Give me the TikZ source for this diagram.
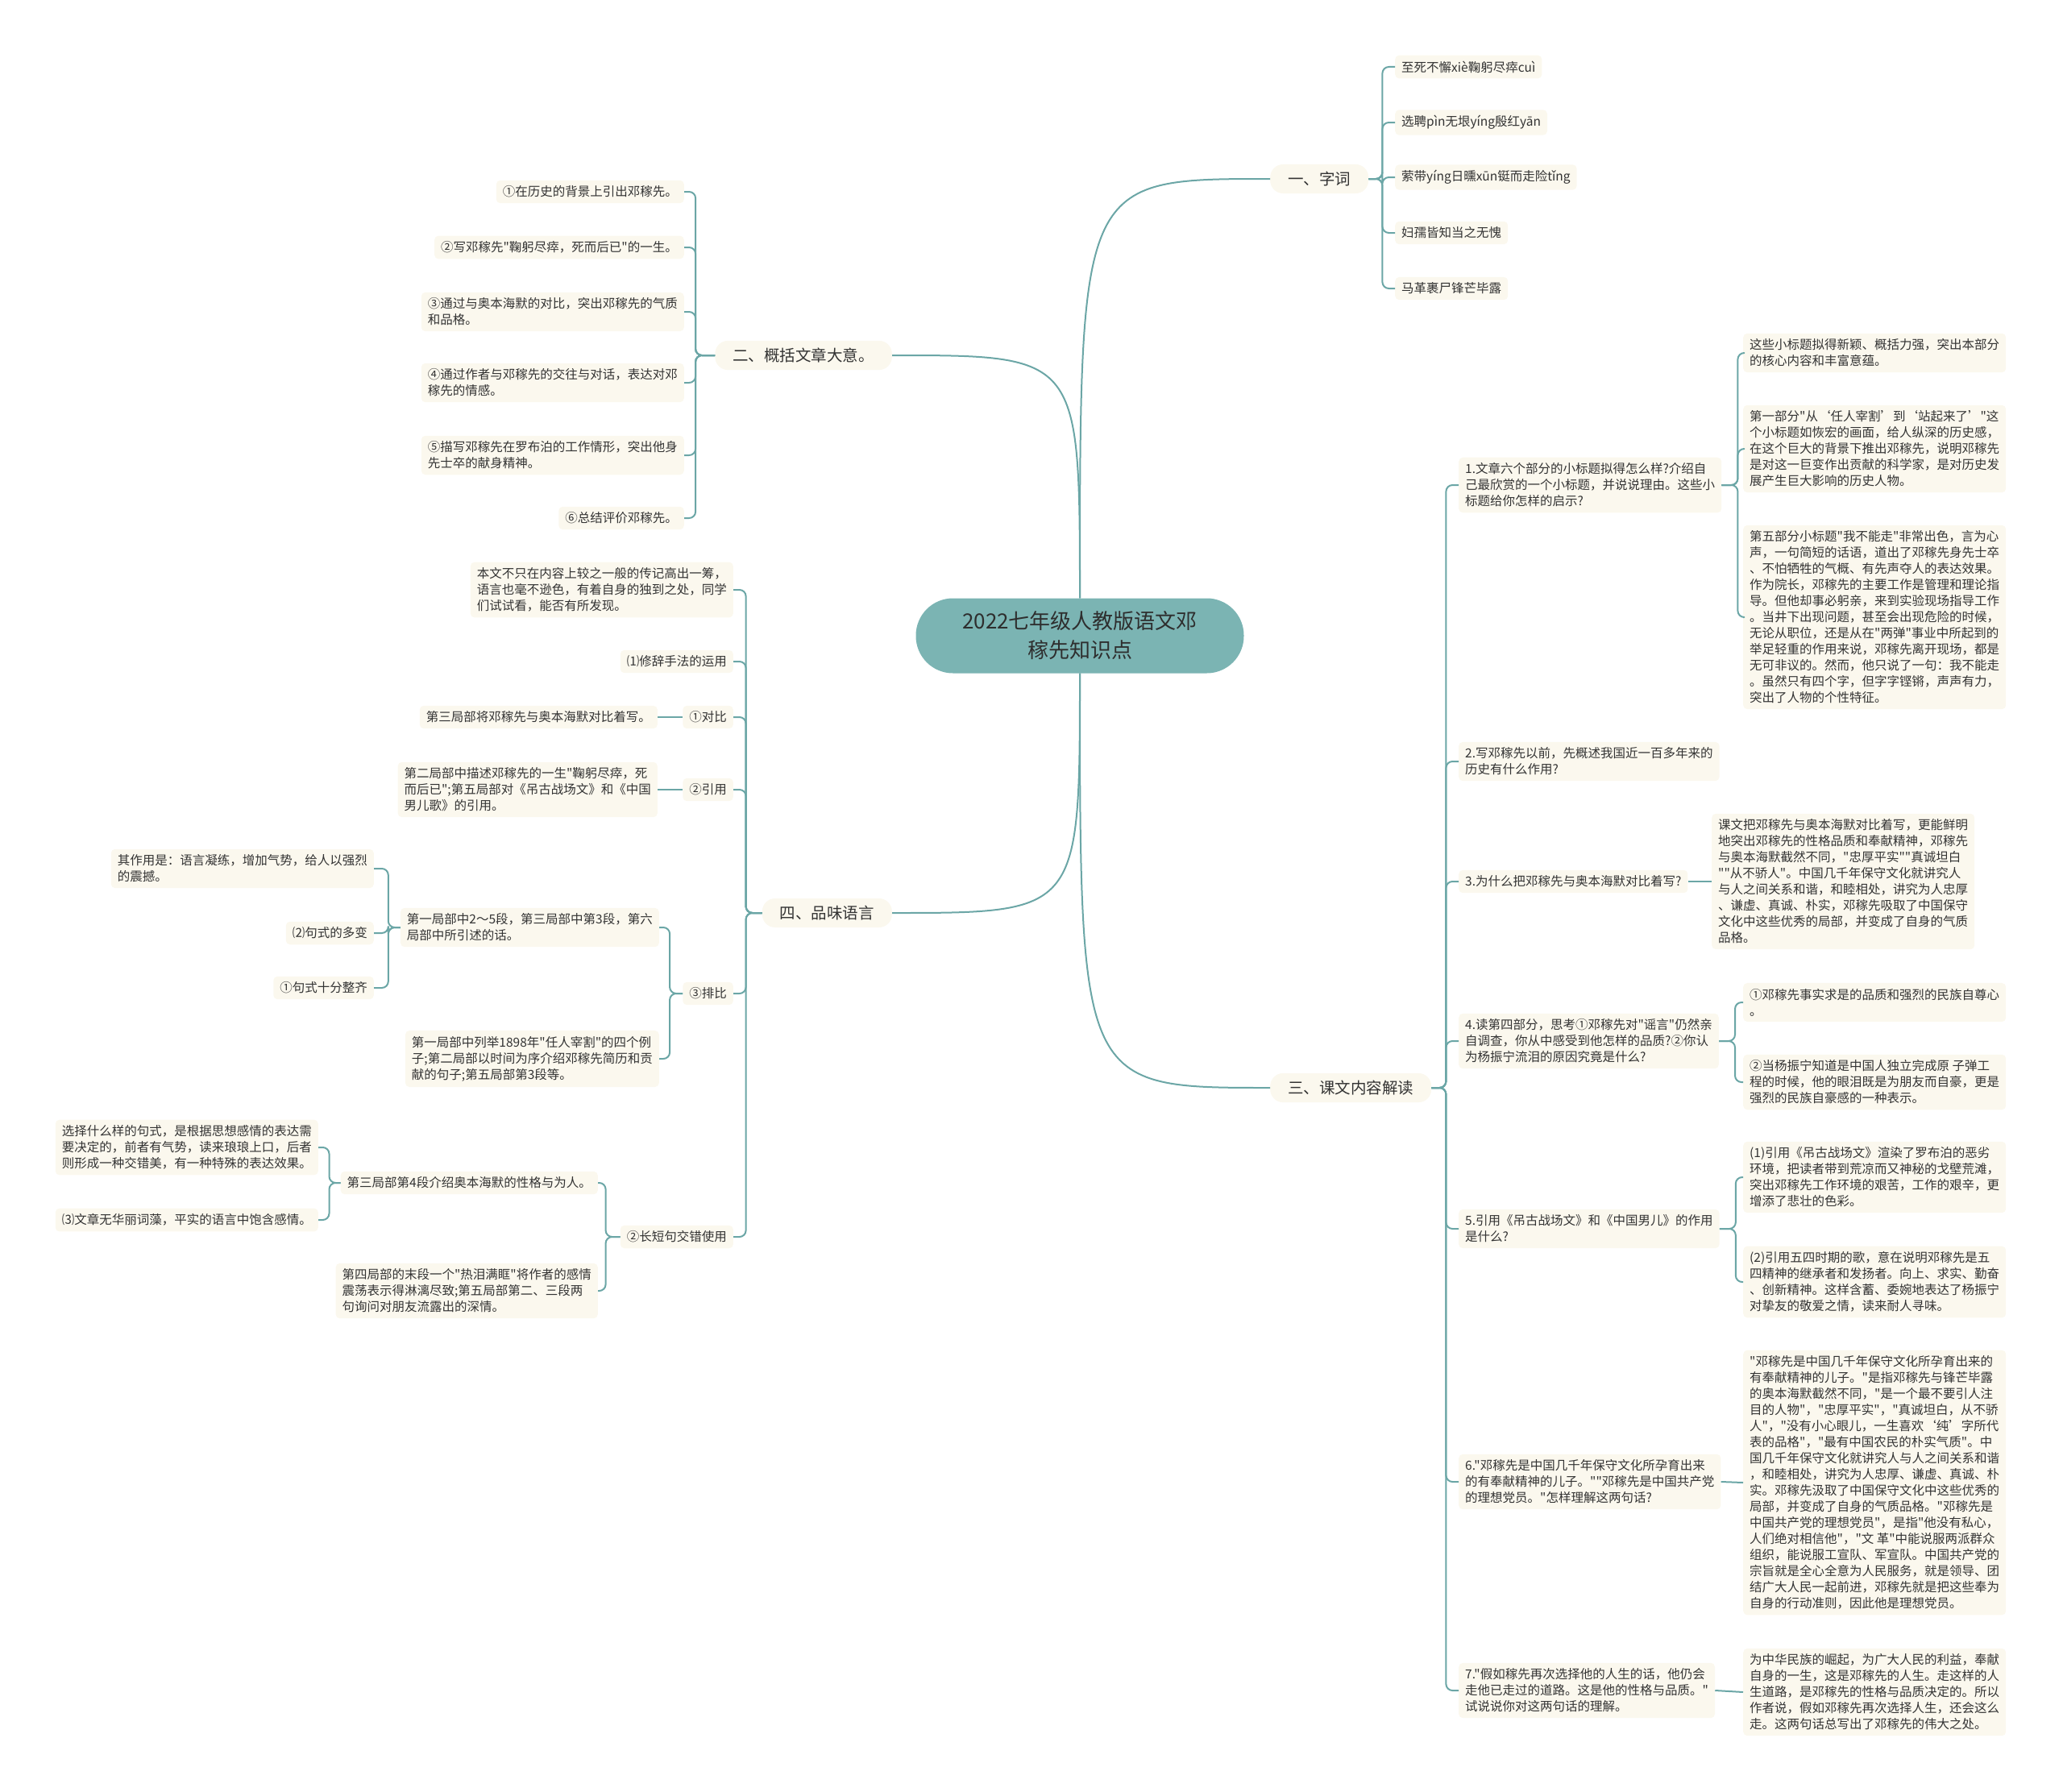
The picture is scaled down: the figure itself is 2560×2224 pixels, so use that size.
\documentclass[tikz,border=0pt]{standalone}
\usepackage{fontspec}
\setmainfont{Noto Sans CJK SC}[Ligatures=TeXOff]
\usepackage{xcolor}
\definecolor{cream}{HTML}{FBF8EE}
\definecolor{tealline}{HTML}{6BA6A6}
\definecolor{tealroot}{HTML}{7BB4B3}
\definecolor{ink}{HTML}{333333}

\begin{document}
\begin{tikzpicture}[x=1pt, y=-1pt, line join=round,
    rootbox/.style={fill=tealroot, rounded corners=46pt, minimum width=407pt, minimum height=93pt,
        align=center, text=ink!90!black, font=\fontsize{26}{36}\selectfont},
    topicbox/.style={fill=cream, rounded corners=16pt, inner xsep=22pt, inner ysep=9pt,
        text=ink, font=\fontsize{19.5}{24}\selectfont},
    leafbox/.style={fill=cream, rounded corners=5pt, inner xsep=8pt, inner ysep=7pt,
        align=left, text=ink, font=\fontsize{15.5}{20}\selectfont},
    link/.style={draw=tealline, line width=2pt, rounded corners=8pt}]

    % full picture: 2560 x 2224, one unit = one pixel of the reference
    \useasboundingbox (0,0) rectangle (2560,2224);

    % ==========================================
    % ROOT AND TOPICS
    % ==========================================

    \node[rootbox] (root) at (1340,789) {2022七年级人教版语文邓\\稼先知识点};

    \node[topicbox, anchor=west] (zici) at (1576,222) {一、字词};
    \node[topicbox, anchor=west] (kewen) at (1576,1350) {三、课文内容解读};
    \node[topicbox, anchor=east] (gaikuo) at (1107,441) {二、概括文章大意。};
    \node[topicbox, anchor=east] (pinwei) at (1107,1133) {四、品味语言};

    \draw[link] (root.north) .. controls (root.north |- zici.west) .. (zici.west);
    \draw[link] (root.north) .. controls (root.north |- gaikuo.east) .. (gaikuo.east);
    \draw[link] (root.south) .. controls (root.south |- kewen.west) .. (kewen.west);
    \draw[link] (root.south) .. controls (root.south |- pinwei.east) .. (pinwei.east);

    % ==========================================
    % 一、字词
    % ==========================================

    \node[leafbox, anchor=west] (z1) at (1731,83) {至死不懈xiè鞠躬尽瘁cuì};
    \node[leafbox, anchor=west] (z2) at (1731,152) {选聘pìn无垠yíng殷红yān};
    \node[leafbox, anchor=west] (z3) at (1731,220) {萦带yíng日曛xūn铤而走险tǐng};
    \node[leafbox, anchor=west] (z4) at (1731,289) {妇孺皆知当之无愧};
    \node[leafbox, anchor=west] (z5) at (1731,358) {马革裹尸锋芒毕露};

    \draw[link] (zici.east) -- ++(17,0) |- (z1.west);
    \draw[link] (zici.east) -- ++(17,0) |- (z2.west);
    \draw[link] (zici.east) -- ++(17,0) |- (z3.west);
    \draw[link] (zici.east) -- ++(17,0) |- (z4.west);
    \draw[link] (zici.east) -- ++(17,0) |- (z5.west);

    % ==========================================
    % 三、课文内容解读
    % ==========================================

    \node[leafbox, anchor=west] (q1) at (1810,602) {1.文章六个部分的小标题拟得怎么样?介绍自\\己最欣赏的一个小标题，并说说理由。这些小\\标题给你怎样的启示?};
    \node[leafbox, anchor=west] (q2) at (1810,945) {2.写邓稼先以前，先概述我国近一百多年来的\\历史有什么作用?};
    \node[leafbox, anchor=west] (q3) at (1810,1094) {3.为什么把邓稼先与奥本海默对比着写?};
    \node[leafbox, anchor=west] (q4) at (1810,1292) {4.读第四部分，思考①邓稼先对"谣言"仍然亲\\自调查，你从中感受到他怎样的品质?②你认\\为杨振宁流泪的原因究竟是什么?};
    \node[leafbox, anchor=west] (q5) at (1810,1525) {5.引用《吊古战场文》和《中国男儿》的作用\\是什么?};
    \node[leafbox, anchor=west] (q6) at (1810,1839) {6."邓稼先是中国几千年保守文化所孕育出来\\的有奉献精神的儿子。""邓稼先是中国共产党\\的理想党员。"怎样理解这两句话?};
    \node[leafbox, anchor=west] (q7) at (1810,2098) {7."假如稼先再次选择他的人生的话，他仍会\\走他已走过的道路。这是他的性格与品质。"\\试说说你对这两句话的理解。};

    \draw[link] (kewen.east) -- ++(18,0) |- (q1.west);
    \draw[link] (kewen.east) -- ++(18,0) |- (q2.west);
    \draw[link] (kewen.east) -- ++(18,0) |- (q3.west);
    \draw[link] (kewen.east) -- ++(18,0) |- (q4.west);
    \draw[link] (kewen.east) -- ++(18,0) |- (q5.west);
    \draw[link] (kewen.east) -- ++(18,0) |- (q6.west);
    \draw[link] (kewen.east) -- ++(18,0) |- (q7.west);

    \node[leafbox, anchor=west] (a11) at (2163,438) {这些小标题拟得新颖、概括力强，突出本部分\\的核心内容和丰富意蕴。};
    \node[leafbox, anchor=west] (a12) at (2163,557) {第一部分"从‘任人宰割’到‘站起来了’"这\\个小标题如恢宏的画面，给人纵深的历史感，\\在这个巨大的背景下推出邓稼先，说明邓稼先\\是对这一巨变作出贡献的科学家，是对历史发\\展产生巨大影响的历史人物。};
    \node[leafbox, anchor=west] (a13) at (2163,766) {第五部分小标题"我不能走"非常出色，言为心\\声，一句简短的话语，道出了邓稼先身先士卒\\、不怕牺牲的气概、有先声夺人的表达效果。\\作为院长，邓稼先的主要工作是管理和理论指\\导。但他却事必躬亲，来到实验现场指导工作\\。当井下出现问题，甚至会出现危险的时候，\\无论从职位，还是从在"两弹"事业中所起到的\\举足轻重的作用来说，邓稼先离开现场，都是\\无可非议的。然而，他只说了一句：我不能走\\。虽然只有四个字，但字字铿锵，声声有力，\\突出了人物的个性特征。};
    \draw[link] (q1.east) -- ++(20,0) |- (a11.west);
    \draw[link] (q1.east) -- ++(20,0) |- (a12.west);
    \draw[link] (q1.east) -- ++(20,0) |- (a13.west);

    \node[leafbox, anchor=west] (a3) at (2124,1094) {课文把邓稼先与奥本海默对比着写，更能鲜明\\地突出邓稼先的性格品质和奉献精神，邓稼先\\与奥本海默截然不同，"忠厚平实""真诚坦白\\""从不骄人"。中国几千年保守文化就讲究人\\与人之间关系和谐，和睦相处，讲究为人忠厚\\、谦虚、真诚、朴实，邓稼先吸取了中国保守\\文化中这些优秀的局部，并变成了自身的气质\\品格。};
    \draw[link] (q3.east) -- (a3.west);

    \node[leafbox, anchor=west] (a41) at (2163,1244) {①邓稼先事实求是的品质和强烈的民族自尊心\\。};
    \node[leafbox, anchor=west] (a42) at (2163,1343) {②当杨振宁知道是中国人独立完成原 子弹工\\程的时候，他的眼泪既是为朋友而自豪，更是\\强烈的民族自豪感的一种表示。};
    \draw[link] (q4.east) -- ++(20,0) |- (a41.west);
    \draw[link] (q4.east) -- ++(20,0) |- (a42.west);

    \node[leafbox, anchor=west] (a51) at (2163,1461) {(1)引用《吊古战场文》渲染了罗布泊的恶劣\\环境，把读者带到荒凉而又神秘的戈壁荒滩，\\突出邓稼先工作环境的艰苦，工作的艰辛，更\\增添了悲壮的色彩。};
    \node[leafbox, anchor=west] (a52) at (2163,1591) {(2)引用五四时期的歌，意在说明邓稼先是五\\四精神的继承者和发扬者。向上、求实、勤奋\\、创新精神。这样含蓄、委婉地表达了杨振宁\\对挚友的敬爱之情，读来耐人寻味。};
    \draw[link] (q5.east) -- ++(20,0) |- (a51.west);
    \draw[link] (q5.east) -- ++(20,0) |- (a52.west);

    \node[leafbox, anchor=west] (a6) at (2163,1840) {"邓稼先是中国几千年保守文化所孕育出来的\\有奉献精神的儿子。"是指邓稼先与锋芒毕露\\的奥本海默截然不同，"是一个最不要引人注\\目的人物"，"忠厚平实"，"真诚坦白，从不骄\\人"，"没有小心眼儿，一生喜欢‘纯’字所代\\表的品格"，"最有中国农民的朴实气质"。中\\国几千年保守文化就讲究人与人之间关系和谐\\，和睦相处，讲究为人忠厚、谦虚、真诚、朴\\实。邓稼先汲取了中国保守文化中这些优秀的\\局部，并变成了自身的气质品格。"邓稼先是\\中国共产党的理想党员"，是指"他没有私心，\\人们绝对相信他"，"文 革"中能说服两派群众\\组织，能说服工宣队、军宣队。中国共产党的\\宗旨就是全心全意为人民服务，就是领导、团\\结广大人民一起前进，邓稼先就是把这些奉为\\自身的行动准则，因此他是理想党员。};
    \draw[link] (q6.east) -- (a6.west);

    \node[leafbox, anchor=west] (a7) at (2163,2100) {为中华民族的崛起，为广大人民的利益，奉献\\自身的一生，这是邓稼先的人生。走这样的人\\生道路，是邓稼先的性格与品质决定的。所以\\作者说，假如邓稼先再次选择人生，还会这么\\走。这两句话总写出了邓稼先的伟大之处。};
    \draw[link] (q7.east) -- (a7.west);

    % ==========================================
    % 二、概括文章大意。
    % ==========================================

    \node[leafbox, anchor=east] (g1) at (849,238) {①在历史的背景上引出邓稼先。};
    \node[leafbox, anchor=east] (g2) at (849,307) {②写邓稼先"鞠躬尽瘁，死而后已"的一生。};
    \node[leafbox, anchor=east] (g3) at (849,387) {③通过与奥本海默的对比，突出邓稼先的气质\\和品格。};
    \node[leafbox, anchor=east] (g4) at (849,475) {④通过作者与邓稼先的交往与对话，表达对邓\\稼先的情感。};
    \node[leafbox, anchor=east] (g5) at (849,565) {⑤描写邓稼先在罗布泊的工作情形，突出他身\\先士卒的献身精神。};
    \node[leafbox, anchor=east] (g6) at (849,643) {⑥总结评价邓稼先。};

    \draw[link] (gaikuo.west) -- ++(-24,0) |- (g1.east);
    \draw[link] (gaikuo.west) -- ++(-24,0) |- (g2.east);
    \draw[link] (gaikuo.west) -- ++(-24,0) |- (g3.east);
    \draw[link] (gaikuo.west) -- ++(-24,0) |- (g4.east);
    \draw[link] (gaikuo.west) -- ++(-24,0) |- (g5.east);
    \draw[link] (gaikuo.west) -- ++(-24,0) |- (g6.east);

    % ==========================================
    % 四、品味语言
    % ==========================================

    \node[leafbox, anchor=east] (p1) at (910,732) {本文不只在内容上较之一般的传记高出一筹，\\语言也毫不逊色，有着自身的独到之处，同学\\们试试看，能否有所发现。};
    \node[leafbox, anchor=east] (p2) at (910,821) {⑴修辞手法的运用};
    \node[leafbox, anchor=east] (p3) at (910,890) {①对比};
    \node[leafbox, anchor=east] (p4) at (910,980) {②引用};
    \node[leafbox, anchor=east] (p5) at (910,1233) {③排比};
    \node[leafbox, anchor=east] (p6) at (910,1535) {②长短句交错使用};

    \draw[link] (pinwei.west) -- ++(-20,0) |- (p1.east);
    \draw[link] (pinwei.west) -- ++(-20,0) |- (p2.east);
    \draw[link] (pinwei.west) -- ++(-20,0) |- (p3.east);
    \draw[link] (pinwei.west) -- ++(-20,0) |- (p4.east);
    \draw[link] (pinwei.west) -- ++(-20,0) |- (p5.east);
    \draw[link] (pinwei.west) -- ++(-20,0) |- (p6.east);

    % 对比 and 引用
    \node[leafbox, anchor=east] (p3a) at (816,890) {第三局部将邓稼先与奥本海默对比着写。};
    \node[leafbox, anchor=east] (p4a) at (816,980) {第二局部中描述邓稼先的一生"鞠躬尽瘁，死\\而后已";第五局部对《吊古战场文》和《中国\\男儿歌》的引用。};
    \draw[link] (p3.west) -- (p3a.east);
    \draw[link] (p4.west) -- (p4a.east);

    % 排比
    \node[leafbox, anchor=east] (p5a) at (818,1151) {第一局部中2～5段，第三局部中第3段，第六\\局部中所引述的话。};
    \node[leafbox, anchor=east] (p5b) at (818,1314) {第一局部中列举1898年"任人宰割"的四个例\\子;第二局部以时间为序介绍邓稼先简历和贡\\献的句子;第五局部第3段等。};
    \draw[link] (p5.west) -- ++(-16,0) |- (p5a.east);
    \draw[link] (p5.west) -- ++(-16,0) |- (p5b.east);

    \node[leafbox, anchor=east] (p5a1) at (464,1078) {其作用是：语言凝练，增加气势，给人以强烈\\的震撼。};
    \node[leafbox, anchor=east] (p5a2) at (464,1158) {⑵句式的多变};
    \node[leafbox, anchor=east] (p5a3) at (464,1226) {①句式十分整齐};
    \draw[link] (p5a.west) -- ++(-15,0) |- (p5a1.east);
    \draw[link] (p5a.west) -- ++(-15,0) |- (p5a2.east);
    \draw[link] (p5a.west) -- ++(-15,0) |- (p5a3.east);

    % 长短句
    \node[leafbox, anchor=east] (p6a) at (742,1468) {第三局部第4段介绍奥本海默的性格与为人。};
    \node[leafbox, anchor=east] (p6b) at (742,1602) {第四局部的末段一个"热泪满眶"将作者的感情\\震荡表示得淋漓尽致;第五局部第二、三段两\\句询问对朋友流露出的深情。};
    \draw[link] (p6.west) -- ++(-18,0) |- (p6a.east);
    \draw[link] (p6.west) -- ++(-18,0) |- (p6b.east);

    \node[leafbox, anchor=east] (p6a1) at (395,1424) {选择什么样的句式，是根据思想感情的表达需\\要决定的，前者有气势，读来琅琅上口，后者\\则形成一种交错美，有一种特殊的表达效果。};
    \node[leafbox, anchor=east] (p6a2) at (395,1514) {⑶文章无华丽词藻，平实的语言中饱含感情。};
    \draw[link] (p6a.west) -- ++(-14,0) |- (p6a1.east);
    \draw[link] (p6a.west) -- ++(-14,0) |- (p6a2.east);

\end{tikzpicture}
\end{document}
